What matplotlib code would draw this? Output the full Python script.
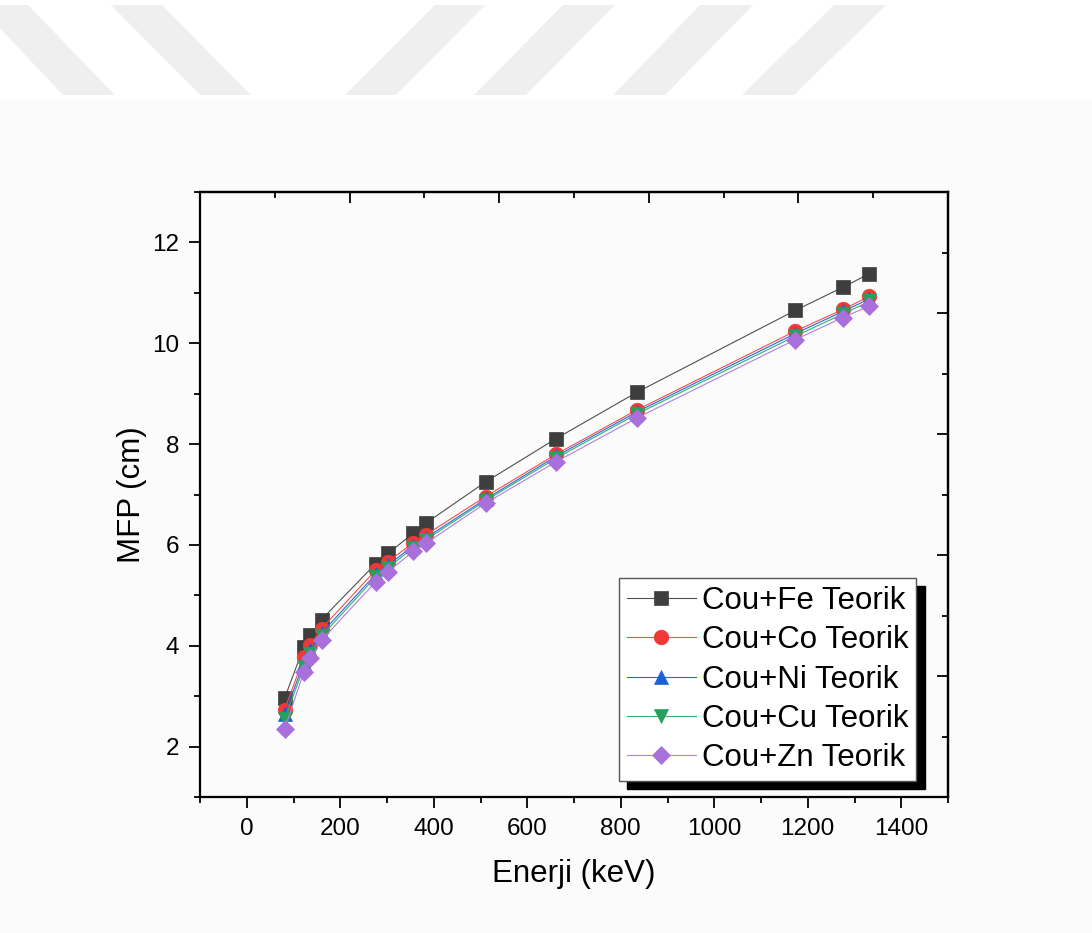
import matplotlib
matplotlib.use("Agg")
import matplotlib.pyplot as plt
from matplotlib.patches import Polygon, Rectangle
from matplotlib.ticker import FixedLocator, MultipleLocator

# ---------------- data ----------------
energy = [81, 122, 136, 160, 276, 302, 356, 383, 511, 662, 835, 1173, 1275, 1332]
mfp_fe = [2.96, 3.98, 4.21, 4.52, 5.63, 5.83, 6.23, 6.43, 7.25, 8.11, 9.03, 10.65, 11.11, 11.38]
mfp_co = [2.73, 3.77, 4.01, 4.34, 5.50, 5.67, 6.04, 6.20, 6.96, 7.80, 8.68, 10.24, 10.67, 10.93]
mfp_ni = [2.64, 3.66, 3.91, 4.25, 5.42, 5.60, 5.98, 6.14, 6.91, 7.76, 8.64, 10.19, 10.63, 10.88]
mfp_cu = [2.54, 3.58, 3.84, 4.19, 5.37, 5.55, 5.94, 6.10, 6.88, 7.72, 8.60, 10.14, 10.58, 10.83]
mfp_zn = [2.35, 3.48, 3.75, 4.11, 5.27, 5.47, 5.87, 6.03, 6.83, 7.65, 8.52, 10.07, 10.51, 10.74]
series_labels = ["Cou+Fe Teorik", "Cou+Co Teorik", "Cou+Ni Teorik", "Cou+Cu Teorik", "Cou+Zn Teorik"]
x_major_ticks = [0, 200, 400, 600, 800, 1000, 1200, 1400]
y_major_ticks = [2, 4, 6, 8, 10, 12]

plt.rcParams['font.family'] = ['Liberation Sans', 'DejaVu Sans']

W, H = 1092, 933
fig = plt.figure(figsize=(W / 100, H / 100), dpi=100)
fig.patch.set_facecolor('white')

def fx(px):
    return px / W

def fy(py):
    return 1 - py / H

# very light background below the watermark band
fig.add_artist(Rectangle((0, 0), 1, fy(100), transform=fig.transFigure,
                         facecolor='#fbfbfb', edgecolor='none', zorder=0))
# watermark stripes
stripes = [
    [(-22, 5), (28, 5), (115, 95), (63, 95)],
    [(111, 5), (162, 5), (251, 95), (200, 95)],
    [(435, 5), (485, 5), (396, 95), (345, 95)],
    [(563, 5), (615, 5), (526, 95), (474, 95)],
    [(700, 5), (753, 5), (665, 95), (613, 95)],
    [(834, 5), (886, 5), (794, 95), (742, 95)],
]
for s in stripes:
    fig.add_artist(Polygon([(fx(a), fy(b)) for a, b in s], closed=True,
                           transform=fig.transFigure, facecolor='#efefef',
                           edgecolor='none', zorder=0))

ax = fig.add_axes([fx(200), fy(797), fx(948) - fx(200), fy(192) - fy(797)])
ax.set_facecolor('none')

styles = [
    dict(color='#3e3e3e', lc='#505050', marker='s', ms=10),
    dict(color='#f03838', lc='#f05050', marker='o', ms=10.5),
    dict(color='#1c60d8', lc='#2a6ad8', marker='^', ms=10.5),
    dict(color='#27a05c', lc='#35b070', marker='v', ms=10.5),
    dict(color='#a96fdb', lc='#b080e0', marker='D', ms=9.5),
]
all_series = [mfp_fe, mfp_co, mfp_ni, mfp_cu, mfp_zn]
for vals, lab, st in zip(all_series, series_labels, styles):
    ax.plot(energy, vals, color=st['lc'], lw=0.8, marker=st['marker'],
            ms=st['ms'], mfc=st['color'], mec=st['color'], mew=0.5, label=lab)

ax.set_xlim(-100, 1500)
ax.set_ylim(1, 13)
ax.xaxis.set_major_locator(FixedLocator(x_major_ticks))
ax.xaxis.set_minor_locator(MultipleLocator(100))
ax.yaxis.set_major_locator(FixedLocator(y_major_ticks))
ax.yaxis.set_minor_locator(MultipleLocator(1))
ax.tick_params(which='major', direction='out', length=8, width=1.3, labelsize=17.5,
               top=False, right=False)
ax.tick_params(axis='x', which='major', pad=7)
ax.tick_params(axis='y', which='major', pad=7)
ax.tick_params(which='minor', direction='out', length=4.5, width=1.3,
               top=False, right=False)
for sp in ax.spines.values():
    sp.set_linewidth(1.6)

ax.set_xlabel('Enerji (keV)', fontsize=22.5, labelpad=14)
ax.set_ylabel('MFP (cm)', fontsize=22.5, labelpad=3.5)

# independent top / right tick sets (10 divisions each)
top_major = [220, 540, 860, 1180]
top_minor = [60, 380, 700, 1020, 1340]
right_major = [3.4, 5.8, 8.2, 10.6]
right_minor = [2.2, 4.6, 7.0, 9.4, 11.8]
secx = ax.secondary_xaxis('top')
secx.xaxis.set_major_locator(FixedLocator(top_major))
secx.xaxis.set_minor_locator(FixedLocator(top_minor))
secx.tick_params(which='major', direction='in', length=8, width=1.3, labeltop=False)
secx.tick_params(which='minor', direction='in', length=4.5, width=1.3)
secx.spines['top'].set_linewidth(1.6)
secy = ax.secondary_yaxis('right')
secy.yaxis.set_major_locator(FixedLocator(right_major))
secy.yaxis.set_minor_locator(FixedLocator(right_minor))
secy.tick_params(which='major', direction='in', length=8, width=1.3, labelright=False)
secy.tick_params(which='minor', direction='in', length=4.5, width=1.3)
secy.spines['right'].set_linewidth(1.6)

leg = ax.legend(loc='upper left', bbox_to_anchor=(fx(619), fy(578)),
                bbox_transform=fig.transFigure, fontsize=22.5, frameon=True,
                fancybox=False, edgecolor='#555555', framealpha=1,
                borderpad=0.25, labelspacing=0.3, handlelength=2.2,
                handletextpad=0.2, borderaxespad=0,
                shadow={'color': 'black', 'alpha': 1, 'ox': 6, 'oy': -6})
leg.get_frame().set_linewidth(1.0)

fig.savefig('out.png', dpi=100)
